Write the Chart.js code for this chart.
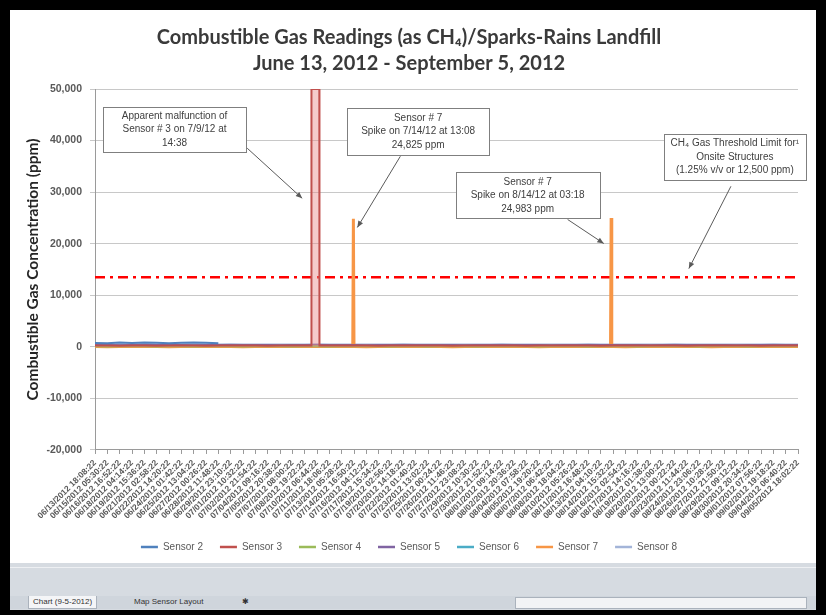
<!DOCTYPE html>
<html>
<head>
<meta charset="utf-8">
<script src="https://cdn.jsdelivr.net/npm/chart.js@4.4.1/dist/chart.umd.min.js"></script>
<style>
  html,body{margin:0;padding:0;background:#000;width:826px;height:615px;overflow:hidden;}
  #sheet{position:absolute;left:10px;top:10px;width:806px;height:553px;background:#fff;}
  #ui{position:absolute;left:10px;top:563px;width:806px;height:47px;background:#d6dbe1;}
  #ui .line{position:absolute;left:0;top:4px;width:806px;height:1px;background:#eef0f3;}
  #tabs{position:absolute;left:0;top:33px;width:806px;height:13px;background:#cfd5dc;font:8px "Liberation Sans",sans-serif;color:#333;}
  .tab{position:absolute;top:0;height:12px;line-height:12px;padding:0 4px;}
  #t1{left:18px;background:#f4f5f7;border:1px solid #aab2bc;border-top:none;}
  #t2{left:120px;}
  #t3{left:228px;}
  #scroll{position:absolute;left:505px;top:1px;width:290px;height:10px;background:#f2f3f5;border:1px solid #aab2bc;}
</style>
</head>
<body>
<div id="sheet"><canvas id="c" width="806" height="553"></canvas></div>
<div id="ui">
  <div class="line"></div>
  <div id="tabs">
    <div class="tab" id="t1">Chart (9-5-2012)</div>
    <div class="tab" id="t2">Map Sensor Layout</div>
    <div class="tab" id="t3">&#x2731;</div>
    <div id="scroll"></div>
  </div>
</div>
<script>
// ---------- data ----------
const tickLabels = [
  "06/13/2012 18:08:22","06/15/2012 05:30:22","06/16/2012 16:52:22","06/18/2012 04:14:22","06/19/2012 15:36:22",
  "06/21/2012 02:58:22","06/22/2012 14:20:22","06/24/2012 01:42:22","06/25/2012 13:04:22","06/27/2012 00:26:22",
  "06/28/2012 11:48:22","06/29/2012 23:10:22","07/01/2012 10:32:22","07/02/2012 21:54:22","07/04/2012 09:16:22",
  "07/05/2012 20:38:22","07/07/2012 08:00:22","07/08/2012 19:22:22","07/10/2012 06:44:22","07/11/2012 18:06:22",
  "07/13/2012 05:28:22","07/14/2012 16:50:22","07/16/2012 04:12:22","07/17/2012 15:34:22","07/19/2012 02:56:22",
  "07/20/2012 14:18:22","07/22/2012 01:40:22","07/23/2012 13:02:22","07/25/2012 00:24:22","07/26/2012 11:46:22",
  "07/27/2012 23:08:22","07/29/2012 10:30:22","07/30/2012 21:52:22","08/01/2012 09:14:22","08/02/2012 20:36:22",
  "08/04/2012 07:58:22","08/05/2012 19:20:22","08/07/2012 06:42:22","08/08/2012 18:04:22","08/10/2012 05:26:22",
  "08/11/2012 16:48:22","08/13/2012 04:10:22","08/14/2012 15:32:22","08/16/2012 02:54:22","08/17/2012 14:16:22",
  "08/19/2012 01:38:22","08/20/2012 13:00:22","08/22/2012 00:22:22","08/23/2012 11:44:22","08/24/2012 23:06:22",
  "08/26/2012 10:28:22","08/27/2012 21:50:22","08/29/2012 09:12:22","08/30/2012 20:34:22","09/01/2012 07:56:22",
  "09/02/2012 19:18:22","09/04/2012 06:40:22","09/05/2012 18:02:22"
];
const seriesNames = ["Sensor 2","Sensor 3","Sensor 4","Sensor 5","Sensor 6","Sensor 7","Sensor 8"];

// readings (ppm) at each tick position
const sensor2 = [760,700,820,740,850,790,720,810,860,780,700];
const sensor3 = [240,260,230,270,250,220,260,280,240,230,270,250,260,240,220,250,270,260,50000,240,
                 260,250,240,230,260,270,250,240,260,230,250,270,240,260,250,230,240,260,270,250,
                 240,230,260,250,240,270,260,250,230,240,260,250,270,240,230,250,260,240];
const sensor4 = [120,90,110,130,100,80,110,120,90,100,130,110,90,100,120,110,80,100,120,90,
                 110,100,130,120,90,100,110,80,100,120,110,90,100,130,110,100,90,120,100,110,
                 80,100,120,110,90,100,130,110,100,90,120,100,110,90,100,120,110,100];
const sensor5 = [350,380,330,360,390,340,370,350,320,360,380,350,340,370,360,330,350,380,360,340,
                 370,350,330,360,380,350,340,370,350,360,330,380,350,340,360,370,350,330,360,380,
                 350,340,370,360,350,330,380,350,360,340,370,350,330,360,350,380,340,360];
const sensor6 = [200,180,220,190,210,200,170,220,200,190,210,180,200,220,190,200,210,180,200,190,
                 220,200,180,210,200,190,220,200,180,210,190,200,220,180,200,210,190,200,180,220,
                 200,190,210,200,180,220,190,200,210,180,200,190,220,200,210,180,200,190];
const sensor7 = [60,40,70,50,80,60,40,70,60,50,80,60,40,70,50,60,80,60,50,70,
                 60,50,40,70,60,80,50,60,70,40,60,50,80,60,70,50,40,60,70,60,
                 50,80,60,40,70,60,50,80,60,70,40,60,50,70,60,80,50,60];
const sensor8 = [450,470,430,460,480,440,450,470,430,460,450,480,440,460,470,430,450,460,480,440,
                 450,470,430,460,440,480,450,460,430,470,450,440,460,480,430,450,470,440,460,450,
                 480,430,460,450,470,440,450,480,460,430,450,470,440,460,450,480,430,450];

// short events between tick positions: [position, ppm]
const sensor3Events = [[17.54,250],[17.55,50000],[18.19,50000],[18.2,250]];
const sensor7Events = [[20.9,60],[20.95,24825],[21.0,60],[41.8,60],[41.85,24983],[41.9,60]];

const thresholdPpm = 13500;
const yMin = -20000, yMax = 50000, yStep = 10000;

// ---------- build ----------
function pts(vals, events) {
  const p = vals.map((v, i) => ({x: i, y: v}));
  (events || []).forEach(e => p.push({x: e[0], y: e[1]}));
  return p.sort((a, b) => a.x - b.x);
}
const colors = ['#4F81BD','#C0504D','#9BBB59','#8064A2','#4BACC6','#F79646','#A3B4D8'];
const valueSets = [pts(sensor2), pts(sensor3, sensor3Events), pts(sensor4), pts(sensor5),
                   pts(sensor6), pts(sensor7, sensor7Events), pts(sensor8)];
const datasets = seriesNames.map((name, i) => ({
  label: name,
  data: valueSets[i],
  borderColor: colors[i],
  backgroundColor: i === 1 ? 'rgba(232,140,140,0.45)' : colors[i],
  fill: i === 1 ? 'origin' : false,
  borderWidth: i === 5 ? 3 : 2,
  pointRadius: 0,
  tension: 0
}));
datasets.push({
  label: 'Threshold',
  isThreshold: true,
  data: [{x: 0, y: thresholdPpm}, {x: tickLabels.length - 1, y: thresholdPpm}],
  borderColor: '#FF0000',
  borderWidth: 2.5,
  borderDash: [10, 5, 3, 5],
  pointRadius: 0,
  fill: false
});

const notes = [
  {lines: ["Apparent malfunction of", "Sensor # 3 on 7/9/12 at", "14:38"],
   at: [6.45, 42100], w: 143, h: 45, from: [12.34, 38520], tip: [16.8, 28800]},
  {lines: ["Sensor # 7", "Spike on 7/14/12 at 13:08", "24,825 ppm"],
   at: [26.2, 41730], w: 142, h: 47, from: [24.76, 36960], tip: [21.27, 23150]},
  {lines: ["Sensor # 7", "Spike on 8/14/12 at 03:18", "24,983 ppm"],
   at: [35.08, 29380], w: 144, h: 46, from: [38.32, 24700], tip: [41.25, 20040]},
  {lines: ["CH\u2084 Gas Threshold Limit for\u00B9", "Onsite Structures", "(1.25% v/v or 12,500 ppm)"],
   at: [51.88, 36770], w: 142, h: 46, from: [51.56, 31130], tip: [48.15, 15170]}
];

const notePlugin = {
  id: 'notes',
  afterDatasetsDraw(chart) {
    const {ctx, scales: {x, y}} = chart;
    ctx.save();
    notes.forEach(n => {
      const cx = x.getPixelForValue(n.at[0]), cy = y.getPixelForValue(n.at[1]);
      const fx = x.getPixelForValue(n.from[0]), fy = y.getPixelForValue(n.from[1]);
      const tx = x.getPixelForValue(n.tip[0]), ty = y.getPixelForValue(n.tip[1]);
      ctx.strokeStyle = '#5a5a5a'; ctx.lineWidth = 1;
      ctx.beginPath(); ctx.moveTo(fx, fy); ctx.lineTo(tx, ty); ctx.stroke();
      const a = Math.atan2(ty - fy, tx - fx);
      ctx.fillStyle = '#5a5a5a';
      ctx.beginPath();
      ctx.moveTo(tx, ty);
      ctx.lineTo(tx - 7 * Math.cos(a - 0.4), ty - 7 * Math.sin(a - 0.4));
      ctx.lineTo(tx - 7 * Math.cos(a + 0.4), ty - 7 * Math.sin(a + 0.4));
      ctx.closePath(); ctx.fill();
      const bx = Math.round(cx - n.w / 2) + 0.5, by = Math.round(cy - n.h / 2) + 0.5;
      ctx.fillStyle = '#fff'; ctx.fillRect(bx, by, n.w, n.h);
      ctx.strokeStyle = '#7f7f7f'; ctx.strokeRect(bx, by, n.w, n.h);
      ctx.fillStyle = '#404040';
      ctx.font = '10px "Liberation Sans", sans-serif';
      ctx.textAlign = 'center'; ctx.textBaseline = 'middle';
      n.lines.forEach((t, i) => ctx.fillText(t, cx, cy + (i - (n.lines.length - 1) / 2) * 13.5));
    });
    ctx.restore();
  }
};

new Chart(document.getElementById('c'), {
  type: 'line',
  data: {datasets},
  plugins: [notePlugin],
  options: {
    responsive: false,
    animation: false,
    layout: {padding: {left: 10, right: 18, top: 0, bottom: 1}},
    plugins: {
      title: {
        display: true,
        text: ["Combustible Gas Readings (as CH\u2084)/Sparks-Rains Landfill", "June 13, 2012 - September 5, 2012"],
        font: {family: 'Lato', size: 20, weight: 'bold', lineHeight: 1.3},
        color: '#3a3a3a',
        padding: {top: 15, bottom: 12}
      },
      legend: {
        position: 'bottom',
        labels: {
          boxWidth: 17, boxHeight: 2.5, padding: 17,
          font: {family: 'Liberation Sans', size: 10},
          color: '#595959',
          generateLabels(chart) {
            return chart.data.datasets
              .map((ds, i) => ({text: ds.label, fillStyle: ds.borderColor, strokeStyle: ds.borderColor,
                                lineWidth: 0, hidden: false, datasetIndex: i, fontColor: '#595959', isT: ds.isThreshold}))
              .filter(l => !l.isT);
          }
        }
      },
      tooltip: {enabled: false}
    },
    scales: {
      x: {
        type: 'linear',
        min: 0, max: tickLabels.length - 1,
        afterBuildTicks(scale) { scale.ticks = tickLabels.map((_, i) => ({value: i})); },
        ticks: {
          autoSkip: false, minRotation: 45, maxRotation: 45,
          font: {family: 'Liberation Sans', size: 8.5, weight: 'bold'},
          color: '#595959', padding: 4,
          callback: v => tickLabels[v]
        },
        grid: {drawOnChartArea: false, drawTicks: true, tickLength: 4, color: '#9a9a9a'},
        border: {display: true, color: '#9a9a9a'}
      },
      y: {
        min: yMin, max: yMax,
        afterFit(scale) { scale.width = 75; },
        ticks: {
          stepSize: yStep, padding: 8,
          font: {family: 'Liberation Sans', size: 10.5, weight: 'bold'},
          color: '#595959',
          callback: v => v.toLocaleString('en-US')
        },
        grid: {color: '#c8c8c8', tickLength: 5},
        border: {display: true, color: '#9a9a9a'},
        title: {
          display: true,
          text: 'Combustible Gas Concentration (ppm)',
          font: {family: 'Lato', size: 15.5, weight: 'bold'},
          color: '#262626',
          padding: {top: 4, bottom: 7}
        }
      }
    }
  }
});
</script>
</body>
</html>
